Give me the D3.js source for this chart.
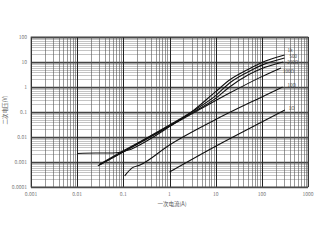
<!DOCTYPE html>
<html lang="zh">
<head>
<meta charset="UTF-8">
<title>二次电压-一次电流</title>
<script src="https://d3js.org/d3.v7.min.js"></script>
<style>
  body { margin: 0; background: #fff; font-family: "Noto Sans CJK SC", "DejaVu Sans", sans-serif; }
  svg { display: block; }
</style>
</head>
<body>
<svg id="chart" width="320" height="240"></svg>
<script>
// axis ticks
const xTicks = [0.001, 0.01, 0.1, 1, 10, 100, 1000];
const xTickLabels = ["0.001", "0.01", "0.1", "1", "10", "100", "1000"];
const yTicks = [0.0001, 0.001, 0.01, 0.1, 1, 10, 100];
const yTickLabels = ["0.0001", "0.001", "0.01", "0.1", "1", "10", "100"];

// curve names (top to bottom at right end)
const seriesNames = ["1k", "500", "200Ω", "100Ω", "10Ω", "1Ω"];

// [primary current A, secondary voltage V]
const curve1k = [[0.01, 0.0022], [0.025, 0.0023], [0.06, 0.0023], [0.13, 0.003], [0.3, 0.0065],
  [1, 0.026], [3, 0.1], [10, 0.65], [20, 1.9], [50, 5], [100, 9.5], [310, 19]];
const curve500 = [[0.03, 0.0008], [0.1, 0.0028], [0.3, 0.0085], [1, 0.03], [3, 0.1], [10, 0.45],
  [20, 1.45], [50, 4], [100, 7.5], [310, 14.5]];
const curve200 = [[0.03, 0.00075], [0.1, 0.0026], [0.3, 0.008], [1, 0.028], [3, 0.09], [10, 0.35],
  [20, 1.0], [50, 3], [100, 5.5], [290, 10]];
const curve100 = [[0.028, 0.0007], [0.1, 0.0025], [1, 0.027], [5, 0.14], [20, 0.57], [100, 2.6], [260, 5.75]];
const curve10 = [[0.107, 0.00028], [0.155, 0.00058], [0.23, 0.00076], [1, 0.0048], [10, 0.05], [100, 0.4], [282, 1.0]];
const curve1 = [[1, 0.0004], [10, 0.0043], [100, 0.04], [315, 0.12]];

const curves = [curve1k, curve500, curve200, curve100, curve10, curve1];

const svg = d3.select("#chart");
const margin = { left: 31, top: 37, right: 12, bottom: 53 };
const width = 320 - margin.left - margin.right;
const height = 240 - margin.top - margin.bottom;

const x = d3.scaleLog().domain([0.001, 1000]).range([0, width]);
const y = d3.scaleLog().domain([0.0001, 100]).range([height, 0]);

const g = svg.append("g").attr("transform", `translate(${margin.left},${margin.top})`);

// grid values 1..9 per decade
function logGrid(lo, hi) {
  const out = [];
  for (let e = Math.log10(lo); e < Math.log10(hi); e++) {
    for (let m = 1; m <= 9; m++) out.push(m * Math.pow(10, e));
  }
  out.push(hi);
  return out;
}
const isDecade = v => Math.abs(Math.log10(v) - Math.round(Math.log10(v))) < 1e-9;

// horizontal grid
g.append("g").selectAll("line")
  .data(logGrid(0.0001, 100))
  .join("line")
  .attr("x1", 0).attr("x2", width)
  .attr("y1", d => Math.round(y(d)) + 0.5).attr("y2", d => Math.round(y(d)) + 0.5)
  .attr("stroke", d => isDecade(d) ? "#444" : "#aaa")
  .attr("stroke-width", d => isDecade(d) ? 1.3 : 0.7);

// vertical grid
g.append("g").selectAll("line")
  .data(logGrid(0.001, 1000))
  .join("line")
  .attr("y1", 0).attr("y2", height)
  .attr("x1", d => Math.round(x(d)) + 0.5).attr("x2", d => Math.round(x(d)) + 0.5)
  .attr("stroke", d => isDecade(d) ? "#222" : "#555")
  .attr("stroke-width", d => isDecade(d) ? 1 : 0.6);

g.append("rect").attr("width", width).attr("height", height)
  .attr("fill", "none").attr("stroke", "#555").attr("stroke-width", 0.8);

// tick labels
g.append("g").selectAll("text")
  .data(xTicks)
  .join("text")
  .attr("x", d => x(d)).attr("y", height + 9)
  .attr("text-anchor", "middle")
  .attr("font-size", 5).attr("fill", "#777")
  .text((d, i) => xTickLabels[i]);

g.append("g").selectAll("text")
  .data(yTicks)
  .join("text")
  .attr("x", -4).attr("y", d => y(d) + 2)
  .attr("text-anchor", "end")
  .attr("font-size", 5).attr("fill", "#777")
  .text((d, i) => yTickLabels[i]);

// axis titles
svg.append("text")
  .attr("x", 172).attr("y", 206)
  .attr("text-anchor", "middle").attr("font-size", 5.5).attr("fill", "#555")
  .text("一次电流(A)");
svg.append("text")
  .attr("transform", "translate(7,110) rotate(-90)")
  .attr("text-anchor", "middle").attr("font-size", 5.5).attr("fill", "#555")
  .text("二次电压(V)");

// curves
const line = d3.line().x(d => x(d[0])).y(d => y(d[1])).curve(d3.curveMonotoneX);
g.append("g").selectAll("path")
  .data(curves)
  .join("path")
  .attr("d", line)
  .attr("fill", "none").attr("stroke", "#111").attr("stroke-width", 1.1);

// labels at curve ends
const labelShift = [[3, -3], [5, 0], [4, 1.5], [2, 5], [5, 0], [4, 0]];
g.append("g").selectAll("text")
  .data(curves)
  .join("text")
  .attr("x", (d, i) => x(d[d.length - 1][0]) + labelShift[i][0])
  .attr("y", (d, i) => y(d[d.length - 1][1]) + labelShift[i][1])
  .attr("font-size", 4.5).attr("fill", "#444")
  .text((d, i) => seriesNames[i]);
</script>
</body>
</html>
